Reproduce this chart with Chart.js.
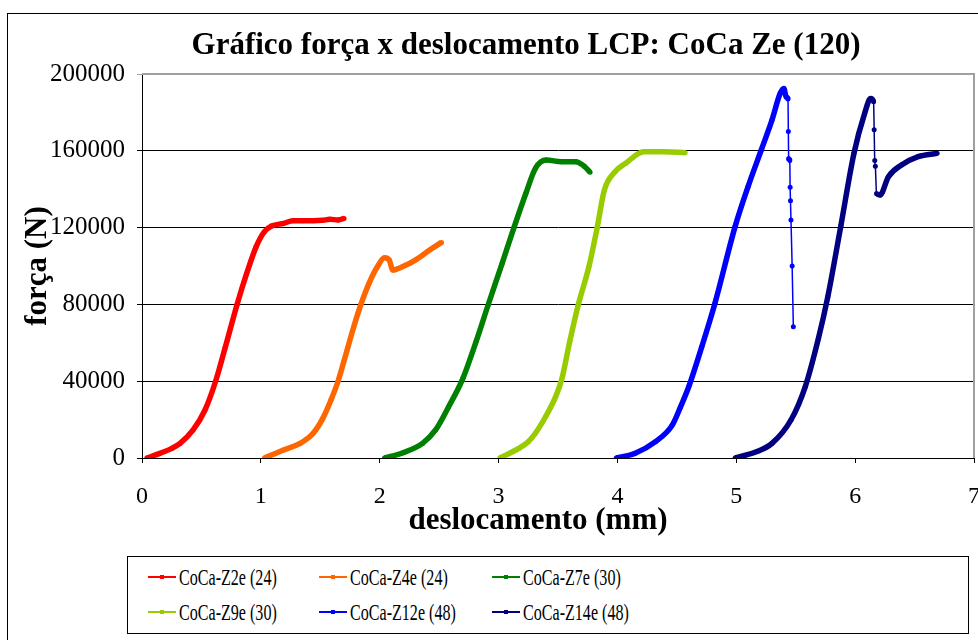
<!DOCTYPE html>
<html>
<head>
<meta charset="utf-8">
<script src="https://cdn.jsdelivr.net/npm/chart.js@4.4.0/dist/chart.umd.min.js"></script>
<style>
  html, body { margin: 0; padding: 0; background: #fff; overflow: hidden; }
  #wrap { position: relative; width: 978px; height: 640px; overflow: hidden; }
  #frame { position: absolute; left: 7px; top: 13px; width: 1000px; height: 700px; border: 1px solid #000; box-sizing: border-box; }
  #chart { position: absolute; left: 0; top: 0; }
  #legend { position: absolute; left: 127px; top: 556px; width: 842px; height: 78px; border: 1px solid #000; box-sizing: border-box;
            font-family: "Liberation Serif", "Times New Roman", serif; font-size: 24px; color: #000; background: #fff; }
  .item { position: absolute; display: flex; align-items: center; height: 28px; white-space: nowrap; }
  .sym { position: relative; width: 28px; height: 2px; margin-right: 3px; flex: none; }
  .sym i { position: absolute; left: 12px; top: -1px; width: 4px; height: 4px; }
  .txt { display: inline-block; transform: scaleX(0.67); transform-origin: left center; }
</style>
</head>
<body>
<div id="wrap">
  <div id="frame"></div>
  <canvas id="chart" width="978" height="640"></canvas>
  <div id="legend"></div>
</div>
<script>
const chartTitle = 'Gráfico força x deslocamento LCP: CoCa Ze (120)';
const xTitle = 'deslocamento (mm)';
const yTitle = 'força (N)';
const xTicks = [0, 1, 2, 3, 4, 5, 6, 7];
const yTicks = [0, 40000, 80000, 120000, 160000, 200000];

const names = ['CoCa-Z2e (24)', 'CoCa-Z4e (24)', 'CoCa-Z7e (30)', 'CoCa-Z9e (30)', 'CoCa-Z12e (48)', 'CoCa-Z14e (48)'];
const colors = ['#ff0000', '#ff6600', '#008000', '#99cc00', '#0000ff', '#000080'];

// readings (mm, N)
const z2eX = [0.04, 0.15, 0.25, 0.32, 0.43, 0.53, 0.62, 0.70, 0.80, 0.88, 0.96, 1.03, 1.09, 1.19, 1.27, 1.35, 1.44, 1.52, 1.58, 1.65, 1.70];
const z2eY = [0, 2400, 5000, 7600, 14600, 25000, 40100, 57500, 80000, 96000, 110000, 117900, 120800, 122200, 123600, 123600, 123600, 123800, 124300, 124000, 124800];

const z4eX = [1.03, 1.19, 1.33, 1.44, 1.52, 1.59, 1.65, 1.72, 1.78, 1.84, 1.91, 1.98, 2.04, 2.08, 2.11, 2.19, 2.30, 2.42, 2.52];
const z4eY = [0, 4200, 7600, 12900, 20500, 30200, 40100, 55000, 68000, 79700, 91000, 99600, 104300, 103100, 97900, 99600, 103100, 108300, 112300];

const z7eX = [2.04, 2.19, 2.36, 2.47, 2.58, 2.70, 2.81, 2.91, 3.03, 3.13, 3.23, 3.31, 3.40, 3.53, 3.65, 3.72, 3.77];
const z7eY = [0, 2600, 7600, 14600, 26700, 41500, 60500, 79300, 101400, 120100, 137900, 150900, 155200, 154300, 154300, 152000, 148800];

const z9eX = [3.01, 3.17, 3.25, 3.31, 3.40, 3.47, 3.53, 3.60, 3.67, 3.76, 3.83, 3.89, 3.98, 4.07, 4.22, 4.40, 4.57];
const z9eY = [0, 5000, 8500, 12900, 22000, 30500, 40600, 61000, 79700, 99600, 120100, 139600, 149100, 153500, 159500, 159500, 159000];

const z12eX = [3.99, 4.15, 4.32, 4.46, 4.53, 4.60, 4.71, 4.82, 4.99, 5.10, 5.21, 5.30, 5.37, 5.40, 5.42, 5.435, 5.438, 5.441, 5.45, 5.453, 5.456, 5.46, 5.47, 5.48];
const z12eY = [0, 2500, 8500, 17000, 26500, 37100, 58000, 80500, 120500, 141500, 160400, 176000, 190000, 192500, 188000, 187000, 170000, 156000, 155000, 141000, 134000, 124000, 100000, 68400];

const z14eX = [4.99, 5.18, 5.30, 5.46, 5.58, 5.69, 5.77, 5.88, 5.99, 6.08, 6.13, 6.155, 6.16, 6.165, 6.17, 6.18, 6.21, 6.28, 6.39, 6.53, 6.69];
const z14eY = [0, 3500, 7600, 19800, 37100, 62000, 84000, 121000, 158700, 179500, 187300, 185600, 171000, 155000, 152000, 137800, 137000, 146500, 152600, 157000, 158700];

const allX = [z2eX, z4eX, z7eX, z9eX, z12eX, z14eX];
const allY = [z2eY, z4eY, z7eY, z9eY, z12eY, z14eY];

const serif = '"Liberation Serif", "Times New Roman", serif';

// sudden drops (sample breaking) are drawn as a thin line
function segWidth(c) {
  const dx = Math.abs(c.p1.parsed.x - c.p0.parsed.x);
  return (c.p1.parsed.y < c.p0.parsed.y - 2000 && dx < 0.012) ? 1.5 : 5.5;
}

const datasets = names.map((n, i) => ({
  label: n,
  data: allX[i].map((x, k) => ({ x: x, y: allY[i][k] })),
  borderColor: colors[i],
  backgroundColor: colors[i],
  borderWidth: 5.5,
  pointRadius: 2.5,
  pointHoverRadius: 2.5,
  pointBorderWidth: 0,
  showLine: true,
  cubicInterpolationMode: 'monotone',
  segment: { borderWidth: segWidth }
}));

const textPlugin = {
  id: 'textPlugin',
  afterDraw(chart) {
    const ctx = chart.ctx;
    ctx.save();
    ctx.fillStyle = '#000';
    ctx.textAlign = 'center';
    ctx.textBaseline = 'middle';
    ctx.font = 'bold 31px ' + serif;
    ctx.fillText(chartTitle, 526, 46);
    ctx.fillText(xTitle, 538, 521);
    ctx.restore();
  }
};

const plotFrame = {
  id: 'plotFrame',
  beforeDatasetsDraw(chart) {
    const { ctx, chartArea: a } = chart;
    ctx.save();
    ctx.strokeStyle = '#a0a0a0';
    ctx.lineWidth = 2;
    ctx.beginPath();
    ctx.moveTo(a.left, a.top);
    ctx.lineTo(a.right, a.top);
    ctx.lineTo(a.right, a.bottom);
    ctx.stroke();
    ctx.restore();
  }
};

const chart = new Chart(document.getElementById('chart'), {
  type: 'scatter',
  data: { datasets },
  options: {
    responsive: false,
    animation: false,
    layout: { padding: { left: 0, right: 4, top: 74, bottom: 100 } },
    plugins: {
      legend: { display: false },
      title: { display: false },
      tooltip: { enabled: false }
    },
    scales: {
      x: {
        type: 'linear',
        min: 0,
        max: 7,
        afterBuildTicks: s => { s.ticks = xTicks.map(v => ({ value: v })); },
        afterFit: s => { s.height = 82; s.paddingLeft = 0; s.paddingRight = 0; },
        ticks: { color: '#000', font: { family: serif, size: 24 }, padding: 19, maxRotation: 0 },
        grid: { drawOnChartArea: false, drawTicks: true, tickLength: 5, color: '#000' },
        border: { color: '#000', width: 1 }
      },
      y: {
        min: 0,
        max: 200000,
        afterBuildTicks: s => { s.ticks = yTicks.map(v => ({ value: v })); },
        afterFit: s => { s.width = 142; },
        ticks: { color: '#000', font: { family: serif, size: 25 }, padding: 12, callback: v => String(v) },
        grid: {
          color: c => (c.tick && c.tick.value === 200000) ? '#a0a0a0' : '#000',
          lineWidth: 1,
          tickLength: 5
        },
        border: { color: '#000', width: 1 },
        title: { display: true, text: yTitle, color: '#000', font: { family: serif, size: 31, weight: 'bold' }, padding: { top: 19, bottom: 0 } }
      }
    }
  },
  plugins: [plotFrame, textPlugin]
});

// legend in three columns, built from the chart's datasets
const legend = document.getElementById('legend');
const colLeft = [20, 191, 364];
const rowTop = [6, 41];
chart.data.datasets.forEach((ds, i) => {
  const item = document.createElement('div');
  item.className = 'item';
  item.style.left = colLeft[i % 3] + 'px';
  item.style.top = rowTop[Math.floor(i / 3)] + 'px';
  const sym = document.createElement('span');
  sym.className = 'sym';
  sym.style.background = ds.borderColor;
  const dot = document.createElement('i');
  dot.style.background = ds.borderColor;
  sym.appendChild(dot);
  const txt = document.createElement('span');
  txt.className = 'txt';
  txt.textContent = ds.label;
  item.appendChild(sym);
  item.appendChild(txt);
  legend.appendChild(item);
});
</script>
</body>
</html>
